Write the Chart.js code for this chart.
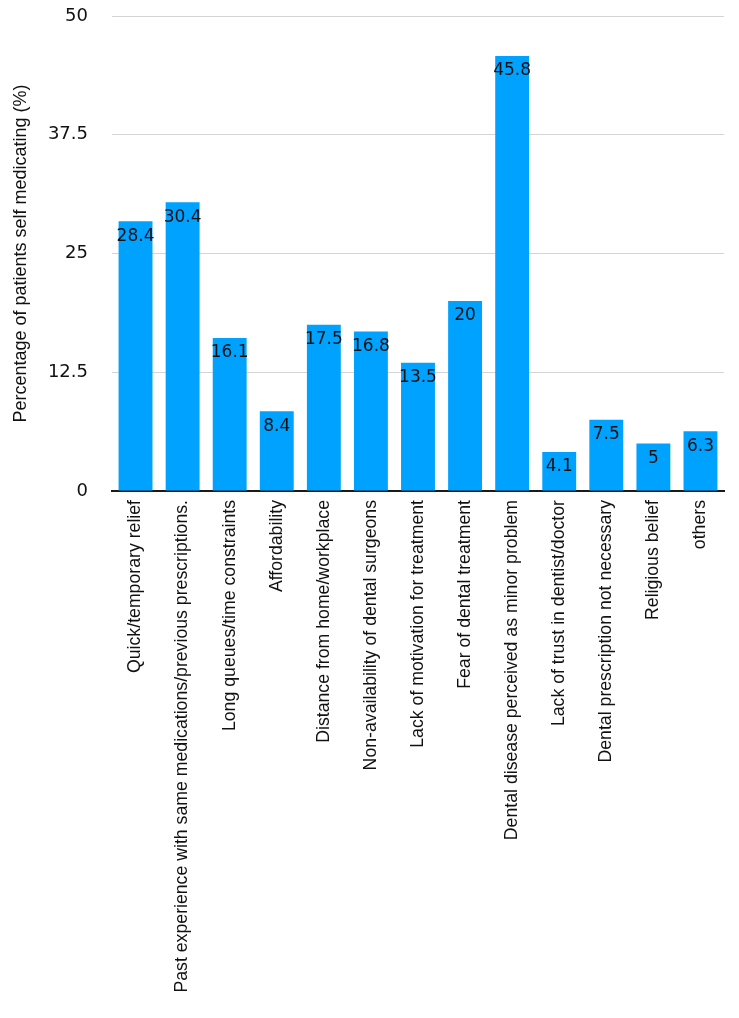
<!DOCTYPE html>
<html>
<head>
<meta charset="utf-8">
<script src="https://cdn.jsdelivr.net/npm/chart.js@4.4.0/dist/chart.umd.min.js"></script>
<style>
    html, body { margin: 0; padding: 0; background: #fff; }
    #wrap { width: 739px; height: 1018px; }
</style>
</head>
<body>
<div id="wrap"><canvas id="chart"></canvas></div>
<script>
const categories = [
    'Quick/temporary relief',
    'Past experience with same medications/previous prescriptions.',
    'Long queues/time constraints',
    'Affordability',
    'Distance from home/workplace',
    'Non-availability of dental surgeons',
    'Lack of motivation for treatment',
    'Fear of dental treatment',
    'Dental disease perceived as minor problem',
    'Lack of trust in dentist/doctor',
    'Dental prescription not necessary',
    'Religious belief',
    'others'
];

const percentages = [28.4, 30.4, 16.1, 8.4, 17.5, 16.8, 13.5, 20, 45.8, 4.1, 7.5, 5, 6.3];

const yTicks = [0, 12.5, 25, 37.5, 50];

const barColor = '#00A2FF';

// write the value just inside the top of each bar
const valueLabels = {
    id: 'valueLabels',
    afterDatasetsDraw(chart) {
        const ctx = chart.ctx;
        const meta = chart.getDatasetMeta(0);
        ctx.save();
        ctx.font = '17px "DejaVu Sans"';
        ctx.fillStyle = '#111';
        ctx.textAlign = 'center';
        ctx.textBaseline = 'middle';
        meta.data.forEach((bar, i) => {
            ctx.fillText(String(percentages[i]), bar.x, bar.y + 15);
        });
        ctx.restore();
    }
};

new Chart(document.getElementById('chart'), {
    type: 'bar',
    data: {
        labels: categories,
        datasets: [{
            data: percentages,
            backgroundColor: barColor,
            borderWidth: 0,
            barPercentage: 0.72,
            categoryPercentage: 1
        }]
    },
    options: {
        responsive: true,
        maintainAspectRatio: false,
        animation: false,
        layout: { padding: { top: 16, right: 15, left: 0, bottom: 0 } },
        plugins: {
            legend: { display: false },
            tooltip: { enabled: false }
        },
        scales: {
            x: {
                afterFit: scale => { scale.height = 527; },
                grid: { display: false, drawTicks: false },
                border: { display: true, color: '#1a1a1a', width: 2 },
                ticks: {
                    autoSkip: false,
                    maxRotation: 90,
                    minRotation: 90,
                    padding: 9,
                    color: '#111',
                    font: { family: '"Liberation Sans", Arial, sans-serif', size: 17.7 }
                }
            },
            y: {
                min: 0,
                max: 50,
                afterFit: scale => {
                    scale.width = 112;
                    scale.paddingTop = 0;   // tick padding was pushing the top line down
                },
                afterBuildTicks: scale => { scale.ticks = yTicks.map(v => ({ value: v })); },
                grid: { color: '#d4d4d4', lineWidth: 1, drawTicks: false },
                border: { display: false },
                ticks: {
                    padding: 24,
                    color: '#111',
                    font: { family: '"DejaVu Sans", sans-serif', size: 18, lineHeight: 1 }
                },
                title: {
                    display: true,
                    text: 'Percentage of patients self medicating (%)',
                    color: '#111',
                    padding: { top: 10, bottom: 0 },
                    font: { family: '"Liberation Sans", Arial, sans-serif', size: 18 }
                }
            }
        }
    },
    plugins: [valueLabels]
});
</script>
</body>
</html>
